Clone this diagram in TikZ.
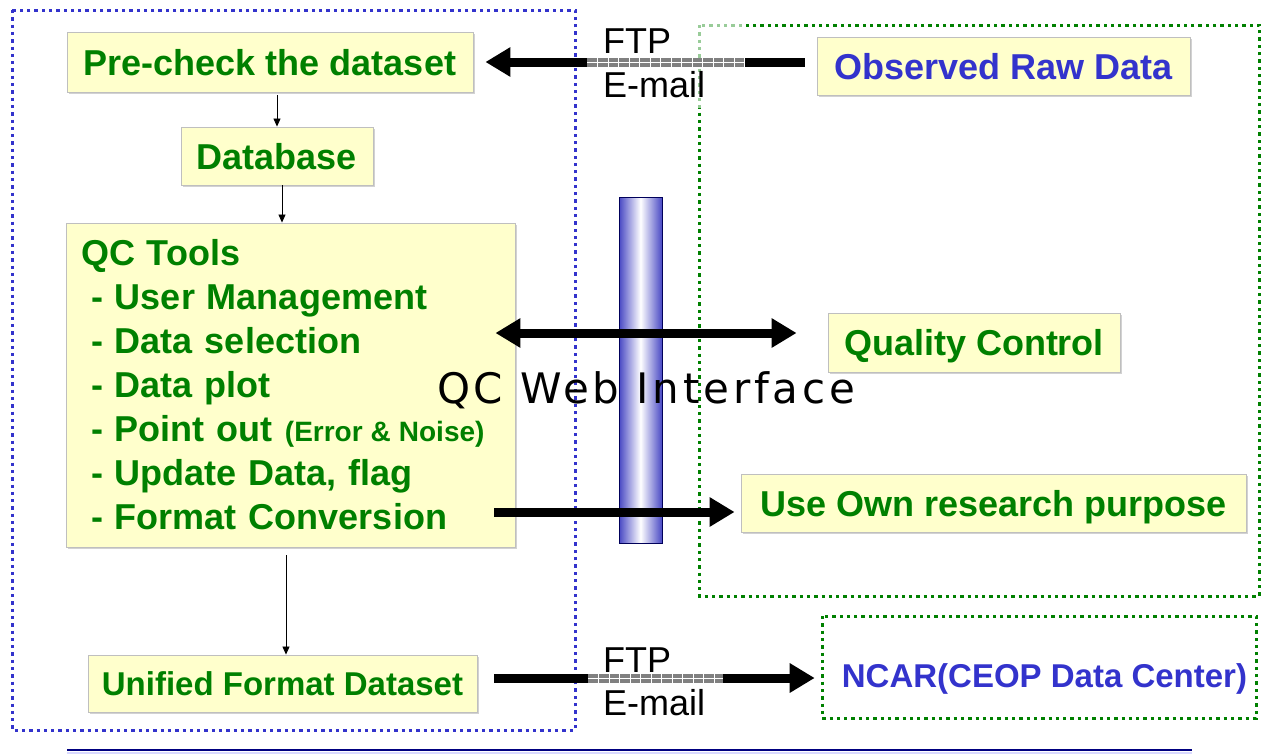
\documentclass[tikz,border=0pt]{standalone}
\usepackage{fontspec}
\setmainfont{Liberation Sans}
\newfontfamily\webfont[LetterSpace=9]{DejaVu Sans}
\usetikzlibrary{arrows.meta,shadows}
\definecolor{boxfill}{HTML}{FFFFCC}
\definecolor{grn}{HTML}{008000}
\definecolor{blu}{HTML}{3333CC}
\definecolor{navyline}{HTML}{000080}
\definecolor{barblue}{HTML}{4848C4}
\newcommand\channel[3]{%
  \fill[black!50] (#1,#3-4.5) rectangle (#2,#3+4.5);
  \draw[white, line width=0.7pt] (#1,#3) -- (#2,#3);
  \pgfmathsetmacro\nstep{int((#2-#1)/10.5)}
  \foreach \k in {1,...,\nstep} {\draw[white, line width=0.7pt] (#1+\k*10.5,#3-4.5) -- (#1+\k*10.5,#3+4.5);}
}
\begin{document}
\begin{tikzpicture}[x=1pt,y=-1pt,
  box/.style={draw=black!25, line width=0.9pt, fill=boxfill,
    drop shadow={shadow xshift=2pt, shadow yshift=-2pt, fill=black!35, opacity=0.5},
    inner sep=0pt, font=\fontsize{36}{44}\selectfont\bfseries, text=grn},
  oneline/.style={text height=26pt, text depth=0pt},
  bluedots/.style={draw=blu, line width=3pt, dash pattern=on 3.3pt off 4pt},
  grndots/.style={draw=grn, line width=3pt, dash pattern=on 3.3pt off 4pt},
  smallarrow/.style={-{Triangle[length=8pt,width=7pt]}, line width=0.8pt},
  bigarrow/.style={line width=9pt, -{Triangle[length=25pt,width=28pt]}},
  lbl/.style={font=\fontsize{36}{36}\selectfont, inner sep=0pt, anchor=base west},
]
\useasboundingbox (0,0) rectangle (1262,753);

% frames
\draw[bluedots] (12,10) rectangle (575,730);
\draw[grndots] (699,25) rectangle (1259,596);
\draw[grndots] (822,616) rectangle (1256,718);

% white label backgrounds
\fill[white, opacity=0.6] (588,20) rectangle (745,108);

% boxes
\node[box, oneline, minimum width=406pt, minimum height=60pt] (pre) at (270,62) {Pre-check the dataset};
\node[box, oneline, minimum width=373pt, minimum height=58pt, text=blu] (obs) at (1003.5,66) {Observed Raw Data};
\node[box, oneline, minimum width=192pt, minimum height=58pt] (db) at (277,156) {Database};
\node[box, minimum width=449pt, minimum height=324pt, align=left, text width=419pt] (qc) at (290.5,385)
  {QC Tools\\
   \hspace*{10pt}- User Management\\
   \hspace*{10pt}- Data selection\\
   \hspace*{10pt}- Data plot\\
   \hspace*{10pt}- Point out {\fontsize{28}{44}\selectfont(Error\hspace{8pt}\&\hspace{8pt}Noise)}\\
   \hspace*{10pt}- Update Data, flag\\
   \hspace*{10pt}- Format Conversion};
\node[box, oneline, minimum width=292pt, minimum height=59pt] (quality) at (974,342.5) {Quality Control};
\node[box, oneline, minimum width=505pt, minimum height=58pt] (use) at (993.5,503) {Use Own research purpose};
\node[box, text height=24pt, text depth=0pt, minimum width=389pt, minimum height=57pt, font=\fontsize{33}{40}\selectfont\bfseries] (unified) at (282.5,683.5) {Unified Format Dataset};
\node[inner sep=0pt, text height=24pt, text depth=0pt, text=blu, font=\fontsize{33}{40}\selectfont\bfseries] (ncar) at (1044.5,675) {NCAR(CEOP Data Center)};

% interface bar
\shade[left color=barblue, right color=barblue, middle color=white] (619,197) rectangle (662,543);
\draw[navyline!70!black, line width=0.8pt] (619,197) rectangle (662,543);

% thin arrows
\draw[smallarrow, shorten <=3pt] (db.north |- pre.south) -- (db.north);
\draw[smallarrow] ([xshift=5pt]db.south) -- ([xshift=5pt]db.south |- qc.north);
\draw[smallarrow, shorten <=8pt] ([xshift=3.5pt]unified.north |- qc.south) -- ([xshift=3.5pt]unified.north);

% thick arrows
\draw[bigarrow, shorten <=12pt, shorten >=12pt] (pre.east -| obs.west) -- (pre.east);
\coordinate (qa) at ([yshift=9.5pt]quality.west);
\draw[bigarrow, {Triangle[length=25pt,width=28pt]}-{Triangle[length=25pt,width=28pt]}, shorten <=-20pt, shorten >=31pt] (qa -| qc.east) -- (qa);
\coordinate (ua) at ([yshift=-9pt]use.west);
\draw[bigarrow, shorten <=-21pt, shorten >=6pt] (ua -| qc.east) -- (ua);
\coordinate (na) at ([yshift=-3pt]ncar.west);
\draw[bigarrow, shorten <=17pt, shorten >=27pt] (na -| unified.east) -- (na);

% channels
\channel{587}{745}{62}
\channel{588}{723}{678}

% labels
\node[lbl] (ftp1) at (603,53) {FTP};
\node[lbl] (mail1) at (603,97) {E-mail};
\node[lbl] (ftp2) at (603,672) {FTP};
\node[lbl] (mail2) at (603,715) {E-mail};

\node[inner sep=0pt, font=\webfont\fontsize{42}{42}\selectfont, text height=31pt, text depth=0pt] (web) at (646,388) {QC Web Interface};

% bottom rule
\draw[blue!15, line width=2pt] (67,752.5) -- (1192,752.5);
\draw[navyline, line width=2pt] (67,750) -- (1192,750);
\end{tikzpicture}
\end{document}
